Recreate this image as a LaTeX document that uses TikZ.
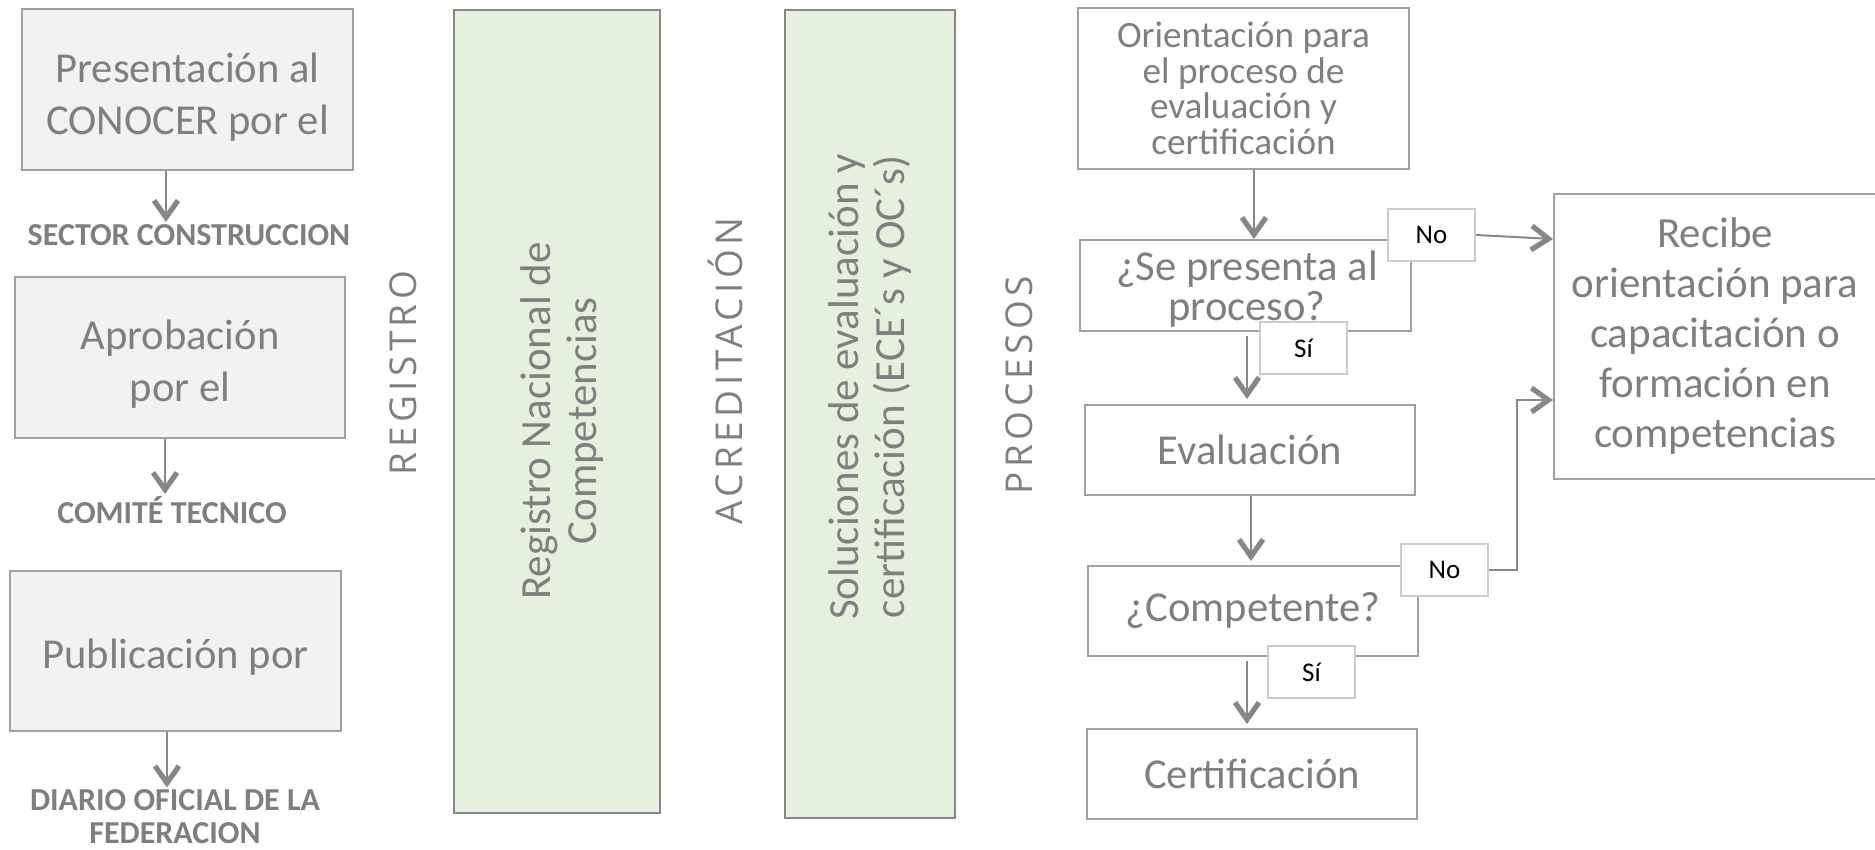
\documentclass[tikz,border=0pt]{standalone}
\usepackage{fontspec}
\setmainfont{Carlito}
\newfontfamily\encab[LetterSpace=12]{Open Sans}
\usetikzlibrary{arrows.meta}
\definecolor{gristxt}{RGB}{127,127,127}
\definecolor{grislinea}{RGB}{160,160,160}
\definecolor{grisflecha}{RGB}{135,135,135}
\definecolor{grisfondo}{RGB}{242,242,242}
\definecolor{verdefondo}{RGB}{229,240,222}
\definecolor{grisetiq}{RGB}{205,205,205}
\begin{document}
\begin{tikzpicture}[x=0.5pt,y=-0.5pt,
    caja/.style={draw=grislinea, line width=1pt, align=center, inner sep=0pt, text=gristxt},
    gris/.style={caja, fill=grisfondo, minimum width=165.5pt, minimum height=80.5pt},
    texto/.style={align=center, inner sep=0pt, text=gristxt, font=\fontsize{21.3}{25.7}\selectfont},
    paso/.style={caja, fill=white, minimum width=165pt, minimum height=45pt, font=\fontsize{21.3}{20}\selectfont},
    verde/.style={caja, draw=grisflecha, fill=verdefondo},
    vtexto/.style={rotate=90, align=center, text=gristxt, font=\fontsize{21.5}{23}\selectfont},
    titulo/.style={rotate=90, text=gristxt, font=\encab\fontsize{18.5}{20}\selectfont},
    sector/.style={align=center, inner sep=1pt, text=gristxt, font=\bfseries\fontsize{16}{16.5}\selectfont},
    resp/.style={draw=grisetiq, line width=1pt, fill=white, minimum width=43.5pt, minimum height=26pt, inner sep=0pt, font=\fontsize{13.5}{14}\selectfont},
    flecha/.style={draw=grisflecha, line width=1pt, -{Straight Barb[length=8.5pt,width=12pt,line width=2.6pt]}}]
    \useasboundingbox (0,0) rectangle (1875,850);

    \node[gris] (pres) at (187.5,90) {};
    \node[texto] (prestxt) at (187.5,97) {Presentación al\\CONOCER por el};
    \node[sector] (sec) at (189,235) {SECTOR CONSTRUCCION};
    \node[gris, minimum width=165pt] (aprob) at (180,357.5) {};
    \node[texto] (aprobtxt) at (180,364) {Aprobación\\por el};
    \node[sector] (comite) at (172,510) {COMITÉ TECNICO};
    \node[gris, minimum height=80pt] (publ) at (175.5,651) {};
    \node[texto] (publtxt) at (175.5,657) {Publicación por};
    \node[sector] (diario) at (175,817) {DIARIO OFICIAL DE LA\\FEDERACION};
    \draw[flecha] ([xshift=-10.75pt]pres.south) -- ([xshift=-11.5pt]sec.north);
    \draw[flecha] ([xshift=-7.5pt]aprob.south) -- ([xshift=-3.5pt]comite.north);
    \draw[flecha] ([xshift=-4.25pt]publ.south) -- ([xshift=-4pt]diario.north);

    \node[titulo] (registro) at (403,373) {REGISTRO};
    \node[verde, minimum width=103pt, minimum height=401.5pt] (rnc) at (557,411.5) {};
    \node[vtexto] (rnctxt) at (562,421) {Registro Nacional de\\Competencias};
    \node[titulo] (acred) at (725,371) {ACREDITACIÓN};
    \node[verde, minimum width=85pt, minimum height=404pt] (sol) at (870,414) {};
    \node[vtexto] (soltxt) at (870,387) {Soluciones de evaluación y\\certificación (ECE´s y OC´s)};
    \node[titulo] (procesos) at (1019,385) {PROCESOS};

    \node[caja, minimum width=165.5pt, minimum height=80.5pt, font=\fontsize{18.6}{17.75}\selectfont] (ori) at (1243.5,88.5) {Orientación para\\el proceso de\\evaluación y\\certificación};
    \node[paso, minimum width=165.5pt, minimum height=45.5pt] (sepres) at (1245.5,285.5) {};
    \node[texto, font=\fontsize{21.3}{20}\selectfont] (sepretxt) at (1247,289) {¿Se presenta al\\proceso?};
    \node[paso] (eval) at (1250,450) {Evaluación};
    \node[paso] (comp) at (1253,611) {¿Competente?};
    \node[paso] (cert) at (1252,774) {Certificación};
    \node[caja, minimum width=161pt, minimum height=142.5pt, font=\fontsize{21.5}{25}\selectfont] (recibe) at (1715,336.5) {Recibe\\orientación para\\capacitación o\\formación en\\competencias};
    \node[resp] (no1) at (1431.5,235) {No};
    \node[resp] (si1) at (1303.5,348.5) {Sí};
    \node[resp] (no2) at (1444.5,570) {No};
    \node[resp] (si2) at (1311.5,672) {Sí};
    \coordinate (esq) at (1517,400);
    \draw[flecha] ([xshift=5.25pt]ori.south) -- ([xshift=4.25pt]sepres.north);
    \draw[flecha] (no1.east) -- ([yshift=-2pt]no1.east -| recibe.west);
    \draw[flecha, shorten <=2pt, shorten >=2.5pt] ([xshift=0.75pt]sepres.south) -- ([xshift=-1.5pt]eval.north);
    \draw[flecha, shorten >=2pt] ([xshift=0.5pt]eval.south) -- ([xshift=-1pt]comp.north);
    \draw[flecha, shorten <=2pt, shorten >=2pt] ([xshift=-3pt]comp.south) -- ([xshift=-2.5pt]cert.north);
    \draw[flecha] (no2.east) -| (esq) -- (esq -| recibe.west);
\end{tikzpicture}
\end{document}
